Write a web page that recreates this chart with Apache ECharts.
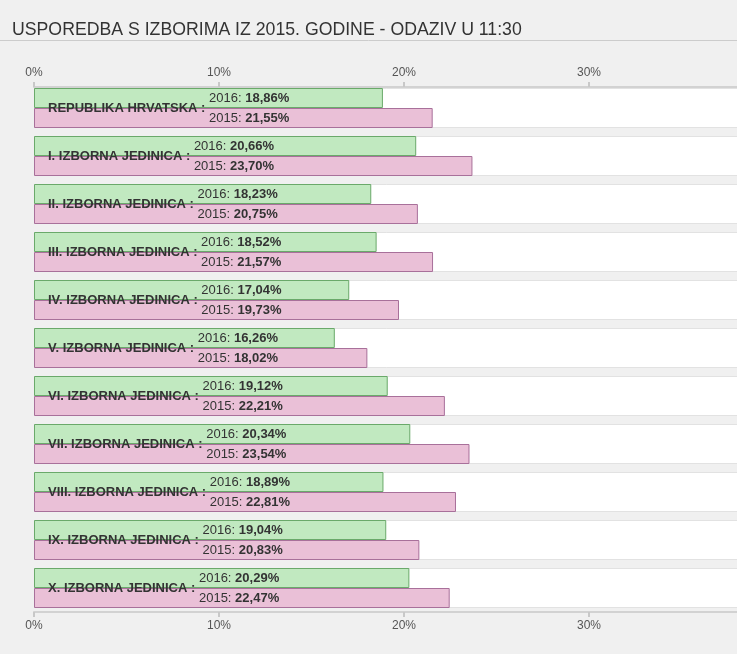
<!DOCTYPE html>
<html><head><meta charset="utf-8">
<script src="https://cdn.jsdelivr.net/npm/echarts@6/dist/echarts.min.js"></script>
<style>html,body{margin:0;padding:0;background:#f0f0f0;}#c{width:737px;height:654px;}</style>
</head><body><div id="c"></div>
<script>
const titleText = 'USPOREDBA S IZBORIMA IZ 2015. GODINE - ODAZIV U 11:30';
const categories = ['REPUBLIKA HRVATSKA', 'I. IZBORNA JEDINICA', 'II. IZBORNA JEDINICA', 'III. IZBORNA JEDINICA',
  'IV. IZBORNA JEDINICA', 'V. IZBORNA JEDINICA', 'VI. IZBORNA JEDINICA', 'VII. IZBORNA JEDINICA',
  'VIII. IZBORNA JEDINICA', 'IX. IZBORNA JEDINICA', 'X. IZBORNA JEDINICA'];
const values2016 = [18.86, 20.66, 18.23, 18.52, 17.04, 16.26, 19.12, 20.34, 18.89, 19.04, 20.29];
const values2015 = [21.55, 23.70, 20.75, 21.57, 19.73, 18.02, 22.21, 23.54, 22.81, 20.83, 22.47];
const yearLabels = ['2016', '2015'];
const axisMin = 0, axisMax = 40, axisStep = 10;

const FONT = '"Liberation Sans", Arial, sans-serif';
const fmt = v => v.toFixed(2).replace('.', ',') + '%';
const chart = echarts.init(document.getElementById('c'), null, {renderer: 'canvas'});

function yearLabel(year) {
  return {
    show: true, position: 'insideLeft', distance: 14,
    formatter: p => '{h|' + categories[p.dataIndex] + ' : }{y|' + year + ': }{v|' + fmt(p.value) + '}',
    rich: {
      h: {fontFamily: FONT, fontSize: 13, fontWeight: 'bold', color: 'rgba(0,0,0,0)'},
      y: {fontFamily: FONT, fontSize: 13, color: '#333'},
      v: {fontFamily: FONT, fontSize: 13, fontWeight: 'bold', color: '#333'}
    }
  };
}

const xAxisCommon = {
  type: 'value', min: axisMin, max: axisMax, interval: axisStep,
  axisLine: {show: true, lineStyle: {color: '#d2d2d2', width: 2}},
  axisTick: {show: true, length: 5, lineStyle: {color: '#c8c8c8', width: 2}},
  axisLabel: {formatter: '{value}%', color: '#555', fontSize: 12, fontFamily: FONT, margin: 8},
  splitLine: {show: false}
};

chart.setOption({
  animation: false,
  backgroundColor: '#f0f0f0',
  title: {text: titleText, left: 7, top: 16,
    textStyle: {fontFamily: FONT, fontSize: 17.7, fontWeight: 'normal', color: '#333'}},
  graphic: [{type: 'line', shape: {x1: 0, y1: 40.5, x2: 737, y2: 40.5}, style: {stroke: '#cccccc', lineWidth: 1}, silent: true}],
  grid: {left: 34, width: 740, top: 84, bottom: 42, containLabel: false, outerBoundsMode: 'none'},
  xAxis: [
    Object.assign({}, xAxisCommon, {position: 'top', offset: -3}),
    Object.assign({}, xAxisCommon, {position: 'bottom'})
  ],
  yAxis: [
    {type: 'category', data: categories, inverse: true, show: false},
    {type: 'category', data: categories, inverse: true, show: false}
  ],
  series: [
    {type: 'bar', name: 'bg', xAxisIndex: 0, yAxisIndex: 1, barWidth: 40, barGap: '-100%', silent: true, z: 1,
      data: categories.map(() => axisMax),
      itemStyle: {color: '#ffffff', borderColor: '#e2e2e2', borderWidth: 1}},
    {type: 'bar', name: yearLabels[0], xAxisIndex: 0, yAxisIndex: 0, barWidth: 20, barGap: 0, z: 2,
      data: values2016,
      itemStyle: {color: '#c1e9c0', borderColor: '#6aa96a', borderWidth: 1},
      label: yearLabel(yearLabels[0])},
    {type: 'bar', name: yearLabels[1], xAxisIndex: 0, yAxisIndex: 0, barWidth: 20, barGap: 0, z: 2,
      data: values2015,
      itemStyle: {color: '#eac0d7', borderColor: '#a8709a', borderWidth: 1},
      label: yearLabel(yearLabels[1])},
    {type: 'bar', name: 'cat', xAxisIndex: 0, yAxisIndex: 1, barWidth: 40, barGap: '-100%', silent: true, z: 5,
      data: categories.map(() => axisMax),
      itemStyle: {color: 'rgba(0,0,0,0)'},
      label: {show: true, position: 'insideLeft', distance: 14,
        formatter: p => categories[p.dataIndex] + ' :',
        fontFamily: FONT, fontSize: 13, fontWeight: 'bold', color: '#333'}}
  ]
});
</script>
</body></html>
